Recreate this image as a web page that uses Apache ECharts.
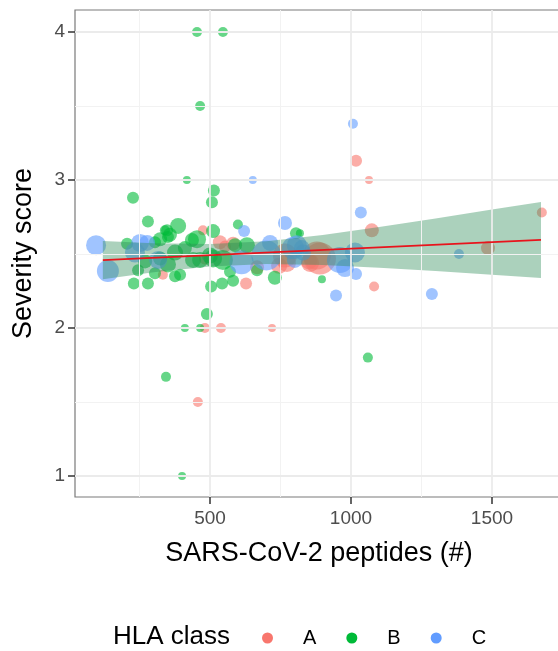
<!DOCTYPE html>
<html>
<head>
<meta charset="utf-8">
<script src="https://cdn.jsdelivr.net/npm/echarts@6/dist/echarts.min.js"></script>
<style>
html,body{margin:0;padding:0;background:#fff;}
#chart{width:558px;height:651px;}
</style>
</head>
<body>
<div id="chart"></div>
<script>
// ---- data (x = SARS-CoV-2 peptides, y = severity score, w = point weight) ----
const classA = [
  [475,2.66,5],[1018,3.13,6],[1064,3.0,4],[1074,2.66,7],[1677,2.78,5],[1486,2.54,7],
  [1082,2.28,5],[890,2.47,16],[851,2.45,8],[482,2.0,5],[539,2.0,5],[720,2.0,4],
  [457,1.5,5],[628,2.3,6],[535,2.58,7],[582,2.57,7],[773,2.44,9],[667,2.41,7],
  [766,2.49,12],[879,2.49,14],[855,2.44,9],[553,2.55,6],[333,2.36,5],[482,2.47,6],[745,2.42,8]
];
const classB = [
  [454,4.0,5],[546,4.0,5],[465,3.5,5],[418,3.0,4],[514,2.93,6],[507,2.85,6],
  [227,2.88,6],[280,2.72,6],[348,2.66,6],[387,2.69,8],[358,2.63,7],[454,2.60,9],
  [511,2.655,7],[599,2.70,5],[805,2.64,6],[1060,1.8,5],[897,2.33,4],[819,2.64,4],
  [489,2.095,6],[411,2.0,4],[465,2.0,4],[344,1.67,5],[401,1.0,4],[504,2.28,6],
  [543,2.30,6],[582,2.32,6],[730,2.34,7],[230,2.30,6],[280,2.30,6],[376,2.35,6],
  [206,2.57,6],[340,2.66,5],[351,2.615,6],[305,2.58,6],[245,2.39,6],[305,2.37,6],
  [351,2.43,8],[376,2.51,8],[436,2.595,7],[631,2.56,8],[546,2.46,10],[500,2.49,8],
  [465,2.46,8],[511,2.47,9],[440,2.46,8],[571,2.38,6],[394,2.36,6],[589,2.56,7],
  [667,2.39,6],[323,2.47,7],[270,2.45,7],[411,2.54,7],[323,2.60,7]
];
const classC = [
  [621,2.655,6],[652,3.0,4],[766,2.71,7],[1007,3.38,5],[1035,2.78,6],[1383,2.5,5],
  [1287,2.23,6],[947,2.22,6],[1018,2.365,6],[961,2.46,13],[1014,2.51,10],[979,2.405,9],
  [826,2.54,8],[96,2.56,10],[138,2.385,11],[252,2.575,9],[277,2.575,8],[234,2.51,10],
  [316,2.46,9],[612,2.445,12],[700,2.49,15],[713,2.575,8],[808,2.56,10],[830,2.51,8],
  [794,2.54,11],[801,2.46,8]
];
// linear fit and its confidence band
const fitX = [120, 1674];
const fitY = [2.459, 2.595];
const bandX  = [120, 300, 500, 700, 900, 1100, 1300, 1500, 1674];
const bandLo = [2.330, 2.377, 2.416, 2.432, 2.425, 2.408, 2.385, 2.360, 2.338];
const bandHi = [2.588, 2.573, 2.568, 2.587, 2.629, 2.682, 2.740, 2.800, 2.852];
// axis ticks
const xMajor = [500, 1000, 1500];
const xMinor = [250, 750, 1250];
const yMajor = [1, 2, 3, 4];
const yMinor = [1.5, 2.5, 3.5];
const classNames = ['A', 'B', 'C'];

const FONT = 'Liberation Sans, Arial, Helvetica, sans-serif';
const colors = ['#F8766D', '#00BA38', '#619CFF'];
const majorStyle = {color: '#EBEBEB', width: 1.8, type: 'solid'};
const minorStyle = {color: '#F2F2F2', width: 1, type: 'solid'};

const gridLines = [];
xMinor.forEach(v => gridLines.push({xAxis: v, lineStyle: minorStyle}));
yMinor.forEach(v => gridLines.push({yAxis: v, lineStyle: minorStyle}));
xMajor.forEach(v => gridLines.push({xAxis: v, lineStyle: majorStyle}));
yMajor.forEach(v => gridLines.push({yAxis: v, lineStyle: majorStyle}));

function scatter(name, data, color) {
  return {
    name: name, type: 'scatter', data: data, z: 3,
    symbol: 'circle',
    symbolSize: d => d[2] * 2,
    itemStyle: {color: color, opacity: 0.6},
    emphasis: {disabled: true},
    animation: false
  };
}

const chart = echarts.init(document.getElementById('chart'), null, {renderer: 'canvas'});
chart.setOption({
  backgroundColor: '#fff',
  animation: false,
  textStyle: {fontFamily: FONT},
  title: {
    text: 'HLA class', left: 108, top: 619,
    textStyle: {fontFamily: FONT, fontSize: 26, fontWeight: 'normal', color: '#000'}
  },
  legend: {
    data: classNames, left: 257, top: 623, orient: 'horizontal',
    icon: 'circle', itemWidth: 11, itemHeight: 11, itemGap: 30,
    itemStyle: {opacity: 1},
    textStyle: {fontFamily: FONT, fontSize: 20, color: '#000', padding: [0, 0, 0, 25]}
  },
  grid: {
    left: 75, top: 10, right: -5, bottom: 154,
    show: true, borderColor: '#7a7a7a', borderWidth: 1.2,
    containLabel: false, outerBoundsMode: 'none'
  },
  xAxis: {
    type: 'value', min: 21.3, max: 1752,
    axisLine: {show: false},
    splitLine: {show: false},
    axisTick: {show: true, length: 7, customValues: xMajor, lineStyle: {color: '#333', width: 1.5}},
    axisLabel: {customValues: xMajor, formatter: v => String(v), fontSize: 19, color: '#4D4D4D', margin: 12, fontFamily: FONT},
    name: 'SARS-CoV-2 peptides (#)', nameLocation: 'middle', nameGap: 43,
    nameTextStyle: {fontSize: 27, color: '#000', fontFamily: FONT}
  },
  yAxis: {
    type: 'value', min: 0.858, max: 4.149,
    axisLine: {show: false},
    splitLine: {show: false},
    axisTick: {show: true, length: 7, customValues: yMajor, lineStyle: {color: '#333', width: 1.5}},
    axisLabel: {customValues: yMajor, formatter: v => String(v), fontSize: 19, color: '#4D4D4D', margin: 10, fontFamily: FONT},
    name: 'Severity score', nameLocation: 'middle', nameGap: 38,
    nameTextStyle: {fontSize: 27, color: '#000', fontFamily: FONT}
  },
  series: [
    {
      name: '_grid', type: 'scatter', data: [], z: 1, silent: true,
      markLine: {silent: true, symbol: ['none', 'none'], label: {show: false},
                 animation: false, emphasis: {disabled: true}, data: gridLines}
    },
    scatter('A', classA, colors[0]),
    scatter('B', classB, colors[1]),
    scatter('C', classC, colors[2]),
    {
      name: '_band', type: 'custom', z: 4, silent: true,
      data: bandX.map((x, i) => [x, bandLo[i], bandHi[i]]),
      encode: {x: 0, y: [1, 2]},
      renderItem: function (params, api) {
        if (params.dataIndex !== 0) return null;
        const pts = [];
        for (let i = 0; i < bandX.length; i++) pts.push(api.coord([bandX[i], bandHi[i]]));
        for (let i = bandX.length - 1; i >= 0; i--) pts.push(api.coord([bandX[i], bandLo[i]]));
        return {type: 'polygon', shape: {points: pts}, style: {fill: 'rgba(46,139,87,0.4)'}};
      }
    },
    {
      name: '_fit', type: 'line', z: 5, silent: true, symbol: 'none',
      data: fitX.map((x, i) => [x, fitY[i]]),
      lineStyle: {color: '#E8141C', width: 1.7}
    }
  ]
});
</script>
</body>
</html>
